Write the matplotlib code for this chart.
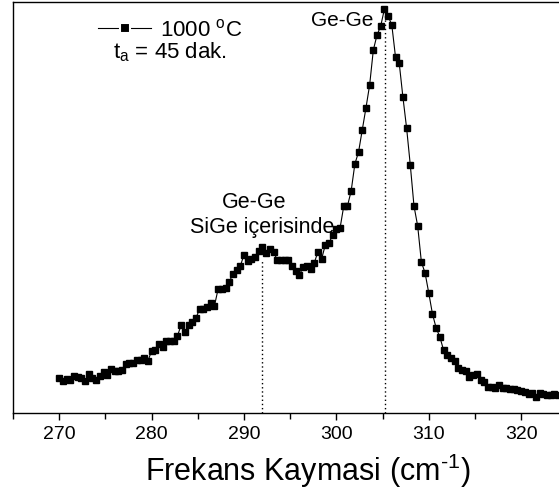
import numpy as np
import matplotlib
matplotlib.use("Agg")
import matplotlib.pyplot as plt

plt.rcParams['font.family'] = ['Liberation Sans', 'DejaVu Sans']
plt.rcParams['mathtext.fontset'] = 'custom'
plt.rcParams['mathtext.rm'] = 'Liberation Sans'
plt.rcParams['mathtext.it'] = 'Liberation Sans:italic'

# Raman spektrumu, 1000 C, 45 dak. (keyfi birim)
x_start = 270.0
x_step = 0.4
intensity = [
    35, 32, 34, 33, 37, 36, 35, 32, 39, 35,
    33, 37, 41, 38, 44, 42, 42, 43, 49, 50,
    50, 53, 53, 55, 52, 62, 63, 69, 66, 72,
    72, 72, 77, 88, 81, 88, 91, 95, 104, 104,
    106, 110, 107, 124, 124, 125, 131, 139, 143, 147,
    158, 152, 154, 156, 162, 166, 160, 164, 161, 153,
    153, 153, 153, 147, 142, 138, 146, 147, 144, 150,
    161, 154, 168, 170, 178, 184, 185, 207, 207, 222,
    249, 261, 283, 305, 328, 363, 378, 387, 404, 397,
    388, 356, 350, 316, 285, 248, 207, 187, 151, 140,
    120, 99, 85, 76, 63, 58, 55, 52, 45, 43,
    42, 36, 38, 39, 33, 31, 26, 26, 25, 28,
    25, 25, 24, 24, 23, 22, 21, 19, 20, 16,
    20, 19, 18, 18, 19, 18, 18,
]
shift = x_start + x_step * np.arange(len(intensity))

peak_lines = [292.0, 305.3]
peak_line_tops = [152, 405]

fig = plt.figure(figsize=(5.59, 4.90), dpi=100)
ax = fig.add_axes([13/559, 77/490, 549/559, 411/490])

ax.plot(shift, intensity, '-s', color='black', lw=0.8, ms=4.3,
        label='1000 $^{\\mathrm{o}}$C')
ax.vlines(peak_lines, 0, peak_line_tops, colors='black', lw=1.0,
          linestyles=(0, (1, 2)))

ax.set_xlim(265.0, 324.42)
ax.set_ylim(0, 411)
ax.set_xticks(np.arange(270, 325, 10))
ax.set_xticks(np.arange(265, 325, 5), minor=True)
ax.set_yticks([])
ax.tick_params(axis='x', which='major', direction='out', length=5, width=1,
               labelsize=14, pad=4)
ax.tick_params(axis='x', which='minor', direction='out', length=4, width=1)
for s in ax.spines.values():
    s.set_linewidth(1.0)

ax.set_xlabel('Frekans Kaymasi (cm$^{\\text{-}1}$)', fontsize=22)
ax.xaxis.set_label_coords(0.537, -0.093)

ax.text(304.0, 392, 'Ge-Ge', fontsize=15, ha='right', va='center')
ax.text(291.1, 210, 'Ge-Ge', fontsize=15.5, ha='center', va='center')
ax.text(292.0, 185, 'SiGe içerisinde', fontsize=15.5, ha='center', va='center')

leg = ax.legend(loc='upper left', bbox_to_anchor=(0.155, 0.958), frameon=False,
                fontsize=16, handlelength=2.4, handletextpad=0.4,
                borderpad=0, borderaxespad=0)
h = leg.legend_handles[0]
h.set_markeredgecolor('white')
h.set_markeredgewidth(1.5)
h.set_markersize(6.5)
ax.text(0.182, 0.878, 't$_{\\mathrm{a}}$ = 45 dak.', transform=ax.transAxes,
        fontsize=16, ha='left', va='center')

fig.savefig('out.png', dpi=100)
